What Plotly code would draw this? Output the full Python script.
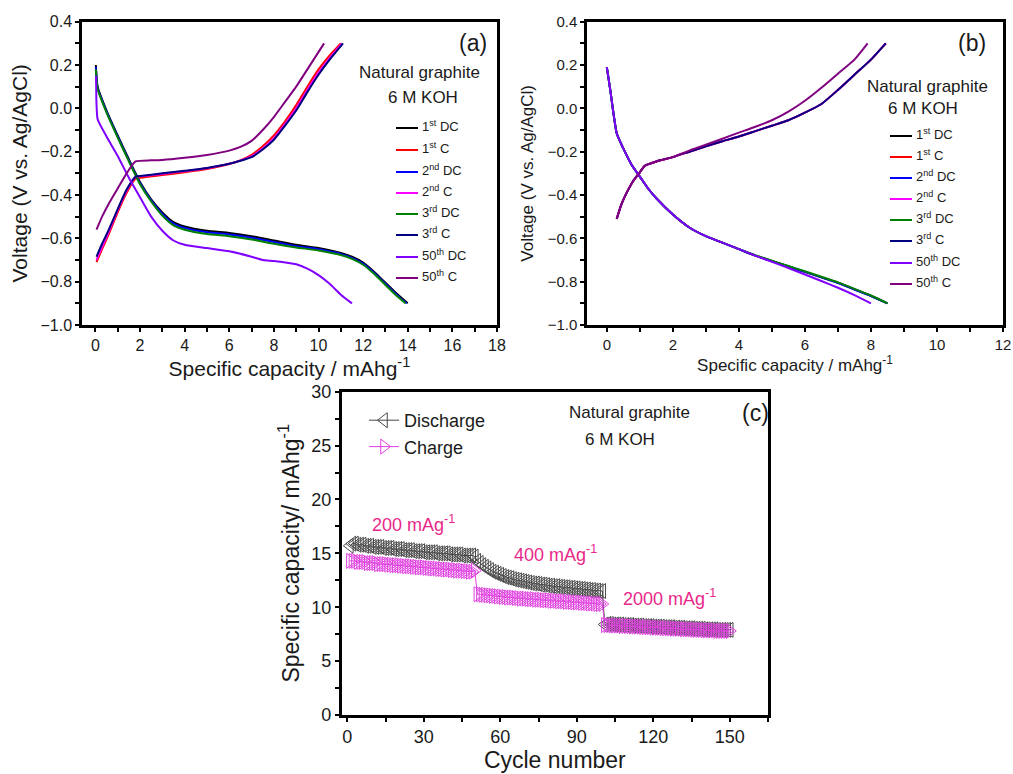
import plotly.graph_objects as go

W, H = 1013, 774


def px(x):
    return x / W


def py(y):
    return 1 - y / H


# ---------------- (a) galvanostatic profiles ----------------
a_dc1_x = [0.02, 0.1, 0.5, 1.0, 1.5, 2.0, 2.5, 3.0, 3.5, 4.0, 5.0, 6.0, 7.0, 8.0, 9.0, 10.0, 11.0, 11.5, 12.0, 12.5, 13.0, 13.5, 14.0]
a_dc1_y = [0.20, 0.10, -0.01, -0.125, -0.235, -0.34, -0.42, -0.48, -0.525, -0.545, -0.565, -0.575, -0.59, -0.61, -0.63, -0.645, -0.668, -0.685, -0.712, -0.755, -0.805, -0.855, -0.90]
a_dc2_x = [0.02, 0.1, 0.5, 1.0, 1.5, 2.0, 2.5, 3.0, 3.5, 4.0, 5.0, 6.0, 7.0, 8.0, 9.0, 10.0, 11.0, 11.5, 12.0, 12.5, 13.0, 13.5, 13.95]
a_dc2_y = [0.19, 0.095, -0.015, -0.13, -0.24, -0.345, -0.425, -0.487, -0.532, -0.552, -0.572, -0.582, -0.597, -0.617, -0.636, -0.65, -0.672, -0.69, -0.717, -0.76, -0.81, -0.86, -0.90]
a_dc3_x = [0.02, 0.1, 0.5, 1.0, 1.5, 2.0, 2.5, 3.0, 3.5, 4.0, 5.0, 6.0, 7.0, 8.0, 9.0, 10.0, 11.0, 11.5, 12.0, 12.5, 13.0, 13.5, 13.9]
a_dc3_y = [0.18, 0.09, -0.02, -0.135, -0.245, -0.35, -0.43, -0.495, -0.54, -0.56, -0.58, -0.59, -0.605, -0.625, -0.642, -0.656, -0.677, -0.695, -0.722, -0.765, -0.815, -0.865, -0.90]

a_c1_x = [0.05, 0.3, 0.6, 1.0, 1.4, 1.8, 2.2, 3.0, 4.0, 5.0, 6.0, 6.5, 7.0, 7.5, 8.0, 8.5, 9.0, 9.5, 10.0, 10.5, 11.0]
a_c1_y = [-0.71, -0.65, -0.58, -0.48, -0.39, -0.325, -0.318, -0.308, -0.295, -0.28, -0.257, -0.24, -0.215, -0.175, -0.125, -0.06, 0.015, 0.10, 0.18, 0.245, 0.30]
a_c2_x = [0.05, 0.3, 0.6, 1.0, 1.4, 1.8, 2.2, 3.0, 4.0, 5.0, 6.0, 6.5, 7.0, 7.5, 8.0, 8.5, 9.0, 9.5, 10.0, 10.5, 11.05]
a_c2_y = [-0.70, -0.64, -0.57, -0.47, -0.38, -0.318, -0.312, -0.303, -0.29, -0.276, -0.256, -0.24, -0.22, -0.185, -0.138, -0.072, 0.0, 0.085, 0.165, 0.232, 0.30]
a_c3_x = [0.05, 0.3, 0.6, 1.0, 1.4, 1.8, 2.2, 3.0, 4.0, 5.0, 6.0, 6.5, 7.0, 7.5, 8.0, 8.5, 9.0, 9.5, 10.0, 10.5, 11.1]
a_c3_y = [-0.685, -0.625, -0.56, -0.465, -0.375, -0.315, -0.31, -0.3, -0.288, -0.275, -0.256, -0.242, -0.225, -0.19, -0.145, -0.08, -0.01, 0.075, 0.155, 0.225, 0.30]

a_dc50_x = [0.03, 0.05, 0.1, 0.5, 1.0, 1.5, 2.0, 2.5, 3.0, 3.5, 4.0, 5.0, 6.0, 7.0, 7.5, 8.0, 9.0, 9.5, 10.0, 10.5, 11.0, 11.5]
a_dc50_y = [0.15, 0.02, -0.05, -0.13, -0.22, -0.32, -0.41, -0.50, -0.565, -0.61, -0.63, -0.645, -0.66, -0.685, -0.70, -0.705, -0.72, -0.74, -0.77, -0.81, -0.86, -0.90]
a_c50_x = [0.05, 0.3, 0.6, 1.0, 1.4, 1.8, 2.5, 3.0, 4.0, 5.0, 6.0, 6.5, 7.0, 7.5, 8.0, 8.5, 9.0, 9.5, 10.25]
a_c50_y = [-0.56, -0.50, -0.44, -0.37, -0.30, -0.245, -0.24, -0.238, -0.228, -0.215, -0.195, -0.178, -0.15, -0.10, -0.04, 0.03, 0.10, 0.18, 0.30]

# ---------------- (b) galvanostatic profiles ----------------
b_dc_x = [0.0, 0.1, 0.3, 0.5, 0.75, 1.0, 1.25, 1.5, 2.0, 2.5, 3.0, 3.5, 4.0, 4.5, 5.0, 5.5, 6.0, 6.5, 7.0, 7.5, 8.0, 8.5]
b_dc1_y = [0.19, 0.09, -0.115, -0.185, -0.26, -0.315, -0.37, -0.415, -0.49, -0.55, -0.59, -0.62, -0.65, -0.68, -0.705, -0.73, -0.755, -0.78, -0.805, -0.835, -0.865, -0.90]
b_dc2_y = [0.19, 0.09, -0.115, -0.185, -0.26, -0.315, -0.37, -0.415, -0.49, -0.55, -0.59, -0.62, -0.65, -0.68, -0.705, -0.73, -0.755, -0.78, -0.806, -0.836, -0.866, -0.90]
b_dc3_y = [0.19, 0.09, -0.115, -0.185, -0.26, -0.315, -0.37, -0.415, -0.49, -0.55, -0.59, -0.62, -0.65, -0.678, -0.703, -0.728, -0.752, -0.777, -0.803, -0.833, -0.864, -0.90]
b_dc50_x = [0.0, 0.1, 0.3, 0.5, 0.75, 1.0, 1.25, 1.5, 2.0, 2.5, 3.0, 3.5, 4.0, 4.5, 5.0, 5.5, 6.0, 6.5, 7.0, 7.5, 8.0]
b_dc50_y = [0.19, 0.09, -0.115, -0.185, -0.26, -0.315, -0.37, -0.415, -0.49, -0.55, -0.59, -0.62, -0.65, -0.68, -0.708, -0.737, -0.767, -0.797, -0.828, -0.862, -0.90]

b_c_x = [0.3, 0.45, 0.6, 0.8, 1.0, 1.15, 1.5, 2.0, 2.5, 3.0, 3.5, 4.0, 4.5, 5.0, 5.5, 6.0, 6.5, 7.0, 7.5, 8.0, 8.45]
b_c1_y = [-0.51, -0.44, -0.39, -0.335, -0.295, -0.265, -0.245, -0.225, -0.2, -0.175, -0.152, -0.13, -0.105, -0.08, -0.055, -0.02, 0.02, 0.085, 0.155, 0.225, 0.30]
b_c2_y = [-0.51, -0.44, -0.39, -0.335, -0.295, -0.265, -0.245, -0.225, -0.2, -0.175, -0.152, -0.13, -0.105, -0.08, -0.055, -0.02, 0.02, 0.085, 0.155, 0.225, 0.30]
b_c3_y = [-0.51, -0.44, -0.39, -0.335, -0.295, -0.265, -0.245, -0.225, -0.2, -0.175, -0.152, -0.13, -0.105, -0.08, -0.055, -0.02, 0.02, 0.085, 0.155, 0.225, 0.30]
b_c50_x = [0.3, 0.45, 0.6, 0.8, 1.0, 1.15, 1.5, 2.0, 2.5, 3.0, 3.5, 4.0, 4.5, 5.0, 5.5, 6.0, 6.5, 7.0, 7.5, 7.9]
b_c50_y = [-0.51, -0.44, -0.39, -0.335, -0.295, -0.265, -0.245, -0.225, -0.195, -0.168, -0.14, -0.112, -0.085, -0.055, -0.015, 0.035, 0.095, 0.16, 0.225, 0.30]

# ---------------- (c) rate capability ----------------
cycles = list(range(1, 151))
discharge = [
    15.7, 15.9, 15.9, 15.8, 15.8, 15.8, 15.7, 15.7, 15.7, 15.6,
    15.6, 15.6, 15.6, 15.5, 15.5, 15.5, 15.5, 15.4, 15.4, 15.4,
    15.4, 15.3, 15.3, 15.3, 15.3, 15.2, 15.2, 15.2, 15.2, 15.1,
    15.1, 15.1, 15.1, 15.1, 15.0, 15.0, 15.0, 15.0, 15.0, 14.9,
    14.9, 14.9, 14.9, 14.9, 14.8, 14.8, 14.8, 14.8, 14.8, 14.7,
    14.3, 14.1, 13.9, 13.75, 13.6, 13.45, 13.3, 13.2, 13.1, 13.0,
    12.9, 12.8, 12.75, 12.7, 12.6, 12.55, 12.5, 12.45, 12.4, 12.35,
    12.3, 12.25, 12.2, 12.2, 12.15, 12.1, 12.1, 12.05, 12.0, 12.0,
    11.95, 11.95, 11.9, 11.9, 11.85, 11.85, 11.8, 11.8, 11.75, 11.75,
    11.7, 11.7, 11.65, 11.65, 11.6, 11.6, 11.55, 11.55, 11.5, 11.5,
    8.4, 8.45, 8.45, 8.4, 8.4, 8.4, 8.4, 8.35, 8.35, 8.35,
    8.35, 8.3, 8.3, 8.3, 8.3, 8.25, 8.25, 8.25, 8.25, 8.2,
    8.2, 8.2, 8.2, 8.15, 8.15, 8.15, 8.15, 8.1, 8.1, 8.1,
    8.1, 8.05, 8.05, 8.05, 8.05, 8.0, 8.0, 8.0, 8.0, 7.95,
    7.95, 7.95, 7.95, 7.95, 7.9, 7.9, 7.9, 7.9, 7.9, 7.9,
]
charge = [
    14.3, 14.3, 14.3, 14.2, 14.2, 14.2, 14.2, 14.1, 14.1, 14.1,
    14.1, 14.0, 14.0, 14.0, 14.0, 13.95, 13.95, 13.9, 13.9, 13.9,
    13.85, 13.85, 13.8, 13.8, 13.8, 13.75, 13.75, 13.7, 13.7, 13.7,
    13.65, 13.65, 13.6, 13.6, 13.6, 13.55, 13.55, 13.5, 13.5, 13.5,
    13.45, 13.45, 13.4, 13.4, 13.4, 13.35, 13.35, 13.3, 13.3, 13.4,
    11.2, 11.2, 11.15, 11.15, 11.1, 11.1, 11.05, 11.05, 11.0, 11.0,
    10.95, 10.95, 10.9, 10.9, 10.9, 10.85, 10.85, 10.8, 10.8, 10.8,
    10.75, 10.75, 10.75, 10.7, 10.7, 10.7, 10.65, 10.65, 10.65, 10.6,
    10.6, 10.6, 10.55, 10.55, 10.55, 10.5, 10.5, 10.5, 10.45, 10.45,
    10.45, 10.4, 10.4, 10.4, 10.35, 10.35, 10.35, 10.3, 10.3, 10.3,
    8.35, 8.35, 8.35, 8.3, 8.3, 8.3, 8.3, 8.25, 8.25, 8.25,
    8.25, 8.2, 8.2, 8.2, 8.2, 8.15, 8.15, 8.15, 8.15, 8.1,
    8.1, 8.1, 8.1, 8.05, 8.05, 8.05, 8.05, 8.0, 8.0, 8.0,
    8.0, 7.95, 7.95, 7.95, 7.95, 7.9, 7.9, 7.9, 7.9, 7.85,
    7.85, 7.85, 7.85, 7.85, 7.8, 7.8, 7.8, 7.8, 7.8, 7.8,
]

series_labels = ["1<sup>st</sup> DC", "1<sup>st</sup> C", "2<sup>nd</sup> DC", "2<sup>nd</sup> C",
                 "3<sup>rd</sup> DC", "3<sup>rd</sup> C", "50<sup>th</sup> DC", "50<sup>th</sup> C"]
series_colors = ["#000000", "#ff0000", "#0000ff", "#ff00ff", "#008000", "#000080", "#8000ff", "#800080"]
rate_labels = ["200 mAg<sup>-1</sup>", "400 mAg<sup>-1</sup>", "2000 mAg<sup>-1</sup>"]

FONT = "Liberation Sans, Arial, sans-serif"
TXT = "#1a1a1a"
PINK = "#e8288a"

fig = go.Figure()


def curve(x, y, color, xa, ya):
    fig.add_trace(go.Scatter(
        x=x, y=y, mode="lines", xaxis=xa, yaxis=ya, showlegend=False, hoverinfo="skip",
        line=dict(color=color, width=2, shape="spline", smoothing=0.5)))


a_sets = [(a_dc1_x, a_dc1_y), (a_c1_x, a_c1_y), (a_dc2_x, a_dc2_y), (a_c2_x, a_c2_y),
          (a_dc3_x, a_dc3_y), (a_c3_x, a_c3_y), (a_dc50_x, a_dc50_y), (a_c50_x, a_c50_y)]
for (x, y), c in zip(a_sets, series_colors):
    curve(x, y, c, "x", "y")

b_sets = [(b_dc_x, b_dc1_y), (b_c_x, b_c1_y), (b_dc_x, b_dc2_y), (b_c_x, b_c2_y),
          (b_dc_x, b_dc3_y), (b_c_x, b_c3_y), (b_dc50_x, b_dc50_y), (b_c50_x, b_c50_y)]
for (x, y), c in zip(b_sets, series_colors):
    curve(x, y, c, "x2", "y2")

fig.add_trace(go.Scatter(
    x=cycles, y=discharge, mode="lines+markers", name="Discharge", xaxis="x3", yaxis="y3",
    line=dict(color="#444444", width=1),
    marker=dict(symbol="triangle-left-open", size=13, color="#4a4a4a", line=dict(width=1))))
fig.add_trace(go.Scatter(
    x=cycles, y=charge, mode="lines+markers", name="Charge", xaxis="x3", yaxis="y3",
    line=dict(color="#e040e0", width=1),
    marker=dict(symbol="triangle-right-open", size=13, color="#e040e0", line=dict(width=1))))


def axis(domain, anchor, rng, dtick, minor_dtick, tick_size, title, title_size, standoff, fmt=None):
    d = dict(
        domain=domain, anchor=anchor, range=rng, dtick=dtick, tick0=0,
        showline=True, linecolor="black", linewidth=2.5, mirror=True,
        ticks="outside", ticklen=4, tickwidth=2, tickcolor="black",
        minor=dict(ticks="outside", ticklen=4, tickwidth=2, tickcolor="black", dtick=minor_dtick, tick0=0),
        showgrid=False, zeroline=False, automargin=False,
        tickfont=dict(size=tick_size, color=TXT, family=FONT),
        title=dict(text=title, font=dict(size=title_size, color=TXT, family=FONT), standoff=standoff),
    )
    if fmt:
        d["tickformat"] = fmt
    return d


cap_title = "Specific capacity / mAhg<sup>-1</sup>"
volt_title = "Voltage (V vs. Ag/AgCl)"

dom_a_x = [px(82), px(497)]
dom_b_x = [px(587), px(1003)]
dom_ab_y = [py(325), py(21.7)]
dom_c_x = [px(341.7), px(768)]
dom_c_y = [py(715), py(391.7)]

fig.update_layout(
    width=W, height=H, template="none",
    margin=dict(l=0, r=0, t=0, b=0),
    paper_bgcolor="white", plot_bgcolor="white",
    font=dict(family=FONT, color=TXT),
    xaxis=axis(dom_a_x, "y", [-0.6, 18], 2, 1, 16, cap_title, 21, 4),
    yaxis=axis(dom_ab_y, "x", [-1.0, 0.4], 0.2, 0.1, 16, volt_title, 21, 8, ".1f"),
    xaxis2=axis(dom_b_x, "y2", [-0.6, 12], 2, 1, 15, cap_title, 17, 4),
    yaxis2=axis(dom_ab_y, "x2", [-1.0, 0.4], 0.2, 0.1, 15, volt_title, 17, 10, ".1f"),
    xaxis3=axis(dom_c_x, "y3", [-2.2, 165], 30, 15, 18, "Cycle number", 23, 4),
    yaxis3=axis(dom_c_y, "x3", [0, 30], 5, 2.5, 18, "Specific capacity/ mAhg<sup>-1</sup>", 23, 6),
    showlegend=True,
    legend=dict(x=px(364), y=py(402), xanchor="left", yanchor="top",
                bgcolor="rgba(0,0,0,0)", font=dict(size=18, color=TXT, family=FONT),
                itemwidth=30, tracegroupgap=0),
)

ann = []
shapes = []


def text(x, y, s, size, color=TXT, xanchor="center"):
    ann.append(dict(x=px(x), y=py(y), xref="paper", yref="paper", text=s, showarrow=False,
                    xanchor=xanchor, yanchor="middle", font=dict(size=size, color=color, family=FONT)))


# panel labels and electrolyte notes
text(473, 43, "(a)", 23)
text(419, 73, "Natural graphite", 17)
text(423, 98, "6 M KOH", 17)
text(972, 43, "(b)", 23)
text(927, 87, "Natural graphite", 17)
text(923, 109, "6 M KOH", 17)
text(755, 413, "(c)", 23)
text(629, 412, "Natural graphite", 17)
text(620, 439, "6 M KOH", 17)

# legends for the voltage profiles
a_rows = [128, 150, 172, 193, 214, 235, 257, 278]
b_rows = [136, 157, 178, 199, 220, 241, 263, 284]
for rows, x0, x1 in ((a_rows, 396, 418), (b_rows, 890, 912)):
    for yy, lab, col in zip(rows, series_labels, series_colors):
        shapes.append(dict(type="line", xref="paper", yref="paper", x0=px(x0), x1=px(x1),
                           y0=py(yy), y1=py(yy), line=dict(color=col, width=2)))
        text(x1 + 2, yy - 2, lab, 13, xanchor="left")

# current-density labels in the rate panel
rate_pos = [(26, 17.8), (81.5, 15.0), (126.5, 10.9)]
for lab, (cx, cy) in zip(rate_labels, rate_pos):
    ann.append(dict(x=cx, y=cy, xref="x3", yref="y3", text=lab, showarrow=False,
                    font=dict(size=18, color=PINK, family=FONT)))

fig.update_layout(annotations=ann, shapes=shapes)
fig.write_html("out.html")
